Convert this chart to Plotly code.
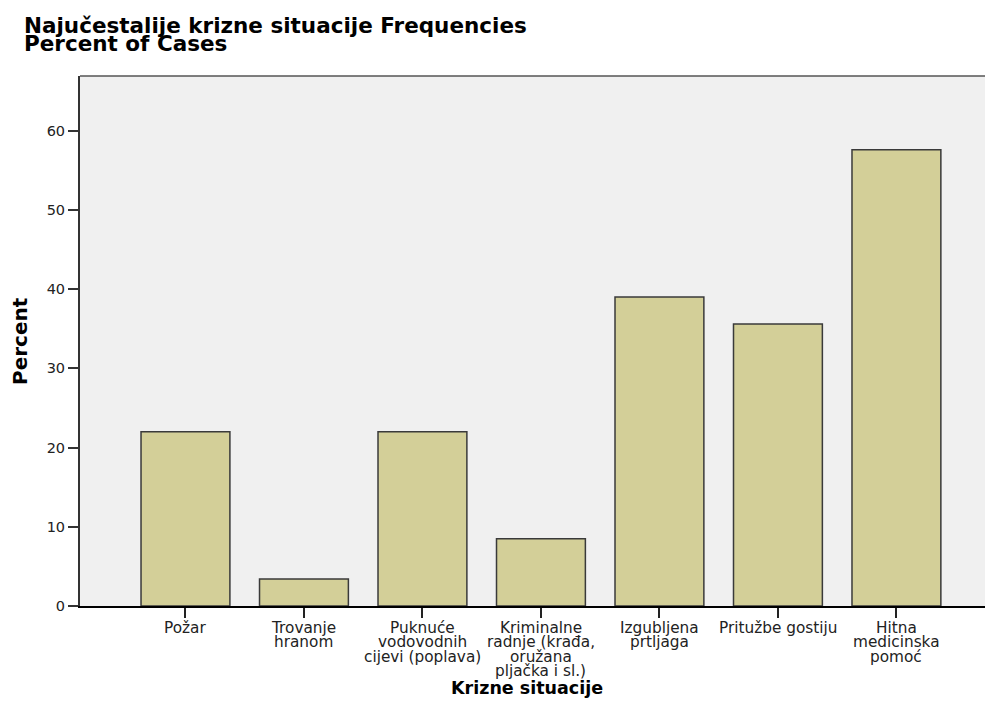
import plotly.graph_objects as go

categories = ["Požar", "Trovanje hranom", "Puknuće vodovodnih cijevi (poplava)",
              "Kriminalne radnje (krađa, oružana pljačka i sl.)", "Izgubljena prtljaga",
              "Pritužbe gostiju", "Hitna medicinska pomoć"]
tick_lines = [["Požar"], ["Trovanje", "hranom"], ["Puknuće", "vodovodnih", "cijevi (poplava)"],
              ["Kriminalne", "radnje (krađa,", "oružana", "pljačka i sl.)"],
              ["Izgubljena", "prtljaga"], ["Pritužbe gostiju"],
              ["Hitna", "medicinska", "pomoć"]]
percent = [22.0, 3.4, 22.0, 8.5, 39.0, 35.6, 57.6]
y_ticks = [0, 10, 20, 30, 40, 50, 60]
title_lines = ["Najučestalije krizne situacije Frequencies", "Percent of Cases"]
x_title = "Krizne situacije"
y_title = "Percent"

fig = go.Figure()
fig.add_trace(go.Bar(
    x=categories, y=percent,
    marker=dict(color="#d3cf98", line=dict(color="#3a3a3a", width=1.5)),
    hoverinfo="x+y",
))

annotations = []
for cat, lines in zip(categories, tick_lines):
    for j, line in enumerate(lines):
        annotations.append(dict(
            x=cat, xref="x", y=0, yref="paper", yanchor="top", xanchor="center",
            yshift=-12 - j * 14.3, text=line, showarrow=False, borderpad=0,
            font=dict(family="DejaVu Sans", size=15.3, color="#222222")))

for j, line in enumerate(title_lines):
    annotations.append(dict(
        x=0, xref="paper", y=1, yref="paper", xanchor="left", yanchor="top",
        xshift=-57, yshift=64 - j * 18, text="<b>%s</b>" % line, showarrow=False,
        borderpad=0,
        font=dict(family="DejaVu Sans", size=21.5, color="#000000")))

annotations.append(dict(
    x=0, xref="paper", y=0.5, yref="paper", xanchor="center", yanchor="middle",
    xshift=-60, text="<b>%s</b>" % y_title, textangle=-90, showarrow=False,
    font=dict(family="DejaVu Sans", size=20, color="#000000")))
annotations.append(dict(
    x=0.49, xref="paper", y=0, yref="paper", xanchor="center", yanchor="middle",
    yshift=-82, text="<b>%s</b>" % x_title, showarrow=False,
    font=dict(family="DejaVu Sans", size=17.5, color="#000000")))

# page body adds an 8px offset; compensate via size and margins
fig.update_layout(
    width=985, height=716,
    margin=dict(l=72, r=0, t=68, b=118, pad=0),
    paper_bgcolor="#ffffff", plot_bgcolor="#f0f0f0",
    bargap=0.25, showlegend=False,
    annotations=annotations,
)
fig.update_xaxes(
    type="category", range=[-0.89, 6.815], showticklabels=False,
    ticks="outside", ticklen=10, tickcolor="#222222", tickwidth=1.5,
    showline=True, linecolor="#000000", linewidth=1.5, mirror=False,
    showgrid=False, zeroline=False, fixedrange=True,
)
fig.update_yaxes(
    range=[0, 66.9], tickvals=y_ticks, ticks="outside", ticklen=10,
    tickcolor="#333333", tickwidth=1.5,
    tickfont=dict(family="DejaVu Sans", size=14.5, color="#222222"),
    showline=True, linecolor="#333333", linewidth=2, showgrid=False, zeroline=False,
    fixedrange=True,
)
fig.add_shape(type="line", xref="paper", yref="paper", x0=0, x1=1, y0=1, y1=1,
              line=dict(color="#555555", width=1.5))

fig.write_html("out.html")
